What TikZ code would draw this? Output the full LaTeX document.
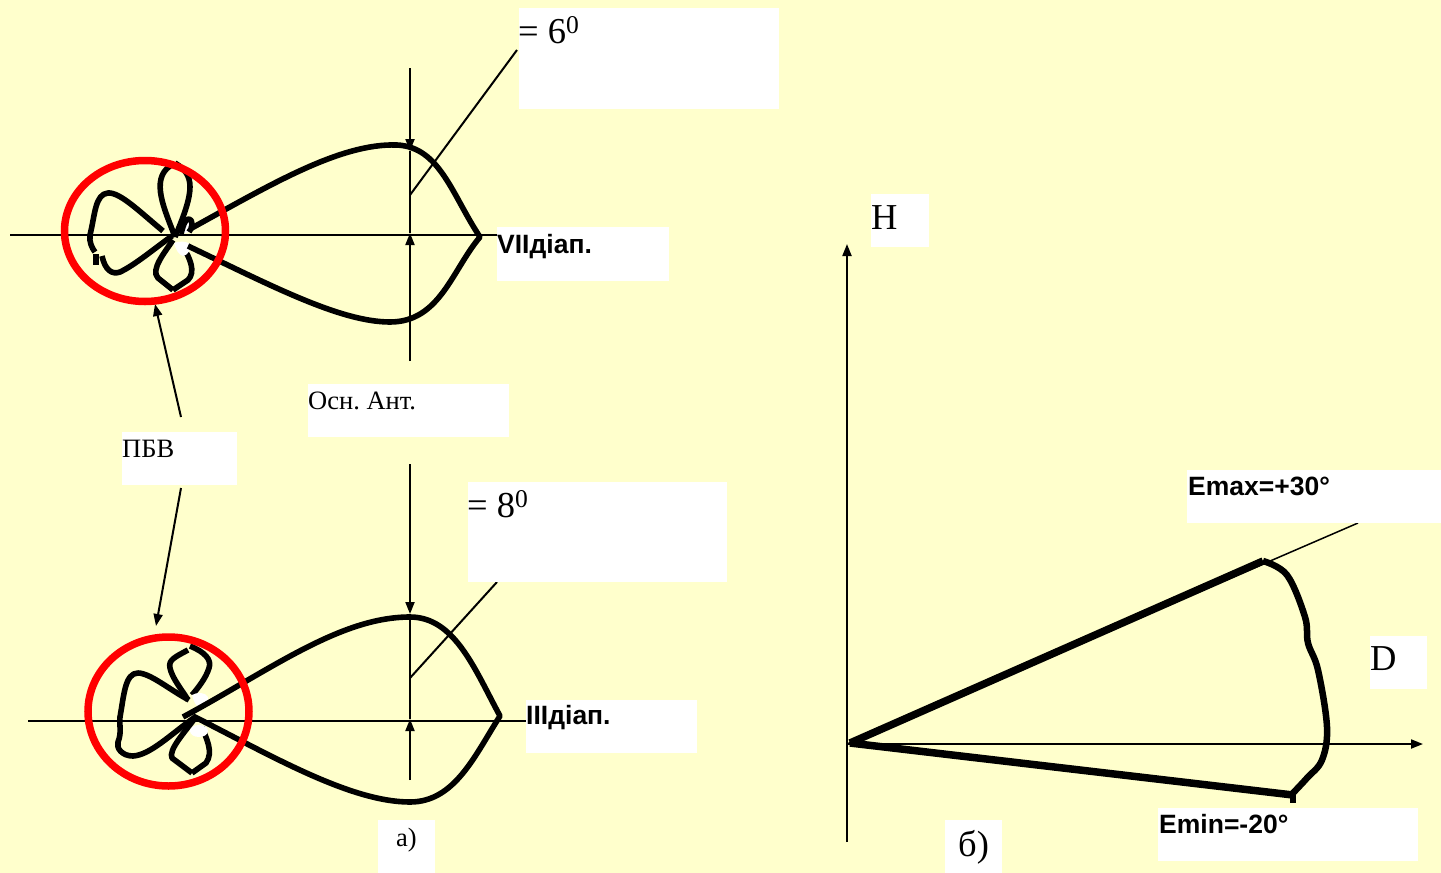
\documentclass[tikz,border=0pt]{standalone}
\usepackage{fontspec}
\setmainfont{Liberation Serif}
\newfontfamily\arialb{Liberation Sans}
\usetikzlibrary{arrows.meta,shapes.geometric}
\definecolor{bgpale}{HTML}{FFFFCC}
\frenchspacing
\tikzset{
  x=1pt,y=-1pt,
  whitebox/.style={fill=white,draw=none,inner sep=0pt,anchor=north west},
  serifbig/.style={inner sep=0pt,anchor=base west,font=\fontsize{36.5}{36}\selectfont},
  serifsmall/.style={inner sep=0pt,anchor=base west,font=\fontsize{26.5}{26}\selectfont},
  sansbold/.style={inner sep=0pt,anchor=base west,font=\fontsize{26.5}{26}\arialb\bfseries\selectfont},
  thinl/.style={line width=2pt,draw=black},
  arrowl/.style={line width=2pt,draw=black,-{Triangle[length=12pt,width=9pt]}},
  lobe/.style={line width=5.6pt,draw=black,line join=round},
  minor/.style={line width=5.6pt,draw=black,line join=round},
  blob/.style={fill=white,draw=none},
  ring/.style={ellipse,draw=red,line width=7.5pt,inner sep=0pt,fill=none},
}
\begin{document}
\begin{tikzpicture}
\useasboundingbox (0,0) rectangle (1441,873);
\fill[bgpale] (0,0) rectangle (1441,873);

% named free ends
\coordinate (axAl) at (10,235);   \coordinate (axAr) at (497,235);
\coordinate (vAt) at (410,68);    \coordinate (vAa) at (410,151);
\coordinate (vAc) at (410,233);   \coordinate (vAb) at (410,361);
\coordinate (diagAa) at (517,50); \coordinate (diagAb) at (410,195);
\coordinate (axBl) at (28,721);   \coordinate (axBr) at (526,721);
\coordinate (vBt) at (410,464);   \coordinate (vBa) at (410,614);
\coordinate (vBc) at (410,719);   \coordinate (vBb) at (410,780);
\coordinate (diagBa) at (497,582);\coordinate (diagBb) at (410,678);
\coordinate (pbvA) at (181,417);  \coordinate (tipA) at (155,304);
\coordinate (pbvB) at (181,488);  \coordinate (tipB) at (156,626);
\coordinate (orig) at (847,744);  \coordinate (Hend) at (847,244);
\coordinate (Hbot) at (847,842);  \coordinate (Dend) at (1423,744);
\coordinate (rayEnd) at (1358,523);
\coordinate (thickO) at (850,743);\coordinate (thickU) at (1263,561);
\coordinate (thickL) at (1293,795);

% thin lines, upper pattern
\draw[thinl] (axAl) -- (axAr);
\draw[arrowl] (vAt) -- (vAa);
\draw[thinl] (vAa) -- (vAc);
\draw[arrowl] (vAb) -- (vAc);
\draw[thinl] (diagAa) -- (diagAb);
% thin lines, lower pattern
\draw[thinl] (axBl) -- (axBr);
\draw[arrowl] (vBt) -- (vBa);
\draw[thinl] (vBa) -- (vBc);
\draw[arrowl] (vBb) -- (vBc);
\draw[thinl] (diagBa) -- (diagBb);
% pointers
\draw[arrowl] (pbvA) -- (tipA);
\draw[arrowl] (pbvB) -- (tipB);

% upper minor lobes
\draw[minor] (163,231) .. controls (140,212) and (120,192) .. (108,193) .. controls (95,194) and (95,215) .. (90,235) .. controls (89,242) and (92,248) .. (95,252);
\draw[minor,line width=6pt] (96,254) -- (96,265);
\draw[minor] (102,256) .. controls (105,270) and (112,275) .. (120,272) .. controls (135,265) and (155,248) .. (172,236);
\draw[minor] (175,237) .. controls (165,210) and (150,180) .. (170,166);
\draw[minor] (175,163) .. controls (195,175) and (195,190) .. (175,237);
\draw[minor,fill=white] (181,234) .. controls (184,222) and (186,219) .. (189,219) .. controls (193,219) and (193,228) .. (189,232);
\draw[minor] (173,240) .. controls (165,252) and (150,270) .. (158,278) -- (173,290);
\draw[minor] (173,290) -- (188,280) .. controls (196,272) and (190,258) .. (183,247);
\fill[blob] (174,243) .. controls (180,241) and (186,241) .. (190,244) .. controls (191,250) and (188,255) .. (183,256) .. controls (179,255) and (176,250) .. (174,243) -- cycle;
% upper main lobe
\draw[lobe] (190,229) .. controls (270,185) and (340,143) .. (397,145) .. controls (440,147) and (452,195) .. (480,237)
  .. controls (452,270) and (440,322) .. (390,322) .. controls (340,322) and (270,285) .. (188,246);

% lower minor lobes
\draw[minor] (195,717) .. controls (170,735) and (150,755) .. (133,756) .. controls (122,756) and (116,748) .. (118,742) .. controls (122,732) and (119,725) .. (120,717) .. controls (124,695) and (125,673) .. (138,673) .. controls (150,673) and (170,690) .. (189,700);
\draw[minor] (188,650) .. controls (175,657) and (168,660) .. (170,668) .. controls (172,678) and (182,690) .. (188,700);
\draw[minor] (190,646) .. controls (205,652) and (212,660) .. (209,668) .. controls (206,678) and (198,688) .. (192,695);
\draw[minor] (195,718) .. controls (185,732) and (168,750) .. (172,758) -- (192,773);
\draw[minor] (192,773) -- (206,763) .. controls (214,752) and (206,738) .. (202,727);
\fill[blob] (192,695) .. controls (197,692) and (205,692) .. (208,697) .. controls (209,702) and (205,705) .. (200,707) .. controls (196,707) and (194,702) .. (192,695) -- cycle;
\fill[blob] (199,731) ellipse (9 and 6);
% lower main lobe
\draw[lobe] (183,717) .. controls (270,670) and (340,617) .. (410,617) .. controls (455,617) and (475,670) .. (500,716)
  .. controls (475,755) and (455,802) .. (410,802) .. controls (350,802) and (270,755) .. (193,716);

% red rings
\node[ring,minimum width=161pt,minimum height=141pt] (ringA) at (145,231) {};
\node[ring,minimum width=161pt,minimum height=149pt] (ringB) at (168.5,711.5) {};

% right chart
\draw[arrowl] (Hbot) -- (Hend);
\draw[arrowl] (orig) -- (Dend);
\draw[line width=1.5pt] (orig) -- (rayEnd);
\draw[line width=7.5pt] (thickO) -- (thickU);
\draw[line width=7.5pt] (thickO) -- (thickL);
\draw[line width=6.5pt,line join=round] plot[smooth,tension=0.6] coordinates {(thickU)(1287,575)(1305,617)(1308,643)(1318,670)(1327,727)(1322,760)(1307,778)(1293,793)};
\draw[line width=6.5pt] (1293,792) -- (1293,803);

% white label boxes
\node[whitebox,minimum width=260pt,minimum height=101pt] (bxA) at (519,8) {};
\node[whitebox,minimum width=172pt,minimum height=54pt] (bxVII) at (497,227) {};
\node[whitebox,minimum width=201pt,minimum height=53pt] (bxOsn) at (308,384) {};
\node[whitebox,minimum width=115pt,minimum height=53pt] (bxPbv) at (122,432) {};
\node[whitebox,minimum width=259pt,minimum height=100pt] (bxB) at (468,482) {};
\node[whitebox,minimum width=171pt,minimum height=53pt] (bxIII) at (526,700) {};
\node[whitebox,minimum width=57pt,minimum height=53pt] (bxa) at (378,820) {};
\node[whitebox,minimum width=58pt,minimum height=53pt] (bxH) at (871,194) {};
\node[whitebox,minimum width=57pt,minimum height=53pt] (bxD) at (1370,636) {};
\node[whitebox,minimum width=254pt,minimum height=53pt] (bxEmax) at (1187,470) {};
\node[whitebox,minimum width=260pt,minimum height=53pt] (bxEmin) at (1158,808) {};
\node[whitebox,minimum width=57pt,minimum height=53pt] (bxb) at (945,820) {};

% texts
\node[serifbig] (tA) at (518,43) {= 6\textsuperscript{0}};
\node[sansbold] (tVII) at (497,253) {VIIдіап.};
\node[serifsmall] (tOsn) at (308,409) {Осн. Ант.};
\node[serifsmall] (tPbv) at (122,457) {ПБВ};
\node[serifbig] (tB) at (467,517) {= 8\textsuperscript{0}};
\node[sansbold] (tIII) at (526,724) {IIIдіап.};
\node[serifsmall] (ta) at (396,846) {а)};
\node[serifbig] (tH) at (871,229) {H};
\node[serifbig] (tD) at (1370,670) {D};
\node[sansbold] (tEmax) at (1188,495) {Emax=+30°};
\node[sansbold] (tEmin) at (1159,833) {Emin=-20°};
\node[serifbig] (tb) at (958,856) {б)};
\end{tikzpicture}
\end{document}
